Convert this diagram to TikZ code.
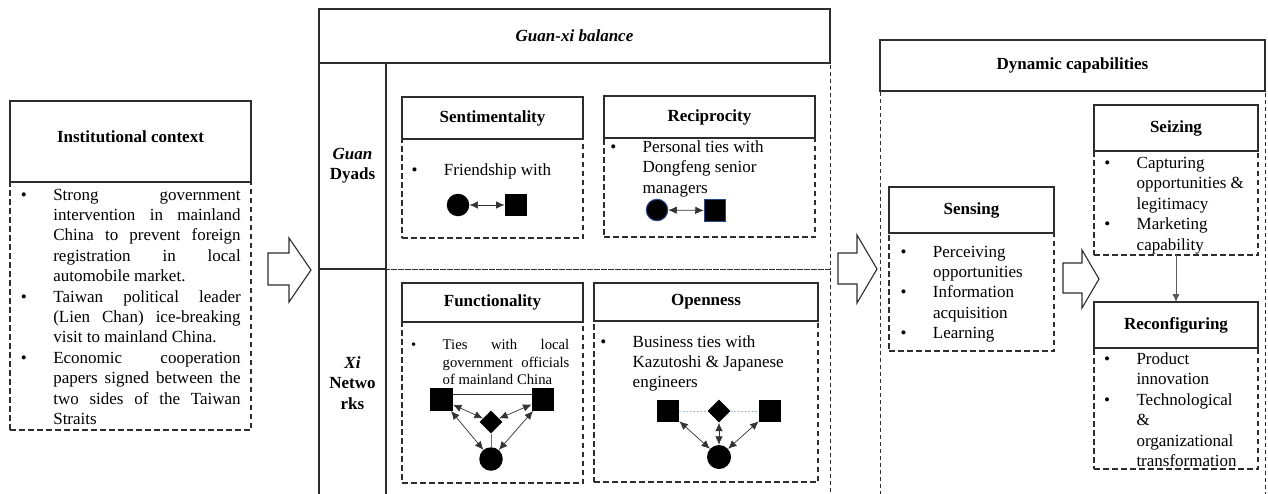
\documentclass[tikz,border=0pt]{standalone}
\usepackage{fontspec}
\setmainfont{Liberation Serif}
\usetikzlibrary{arrows.meta,shapes.geometric}
\definecolor{lc}{RGB}{45,45,45}
\definecolor{bluedge}{RGB}{40,70,140}
\definecolor{blueln}{RGB}{70,110,200}
\definecolor{lightblue}{RGB}{170,190,230}
\newdimen\jw
\newcommand\JL[1]{\hbox to\jw{\spaceskip=.25em plus 1fil\relax #1}}
\newcommand\LL[1]{\hbox{#1}}
\newcommand\BL{\llap{\textbullet\hspace{26.5pt}}}
\newcommand\rbox[7]{\node[#1, minimum width={(#5-#3)*1pt}, minimum height={(#6-#4)*1pt}] (#2) at ({(#3+#5)/2},{(#4+#6)/2}) {#7};}
\tikzset{
  tbox/.style={draw=lc, line width=1.1pt, inner sep=0pt, outer sep=0pt, align=center, font=\fontsize{17}{20.4}\selectfont\bfseries},
  dbox/.style={draw=lc, line width=1.1pt, dash pattern=on 5.5pt off 3.5pt, inner sep=0pt, outer sep=0pt},
  obox/.style={draw=lc, line width=0.8pt, dash pattern=on 4pt off 3pt, inner sep=0pt, outer sep=0pt},
  txt/.style={anchor=base west, inner sep=0pt, outer sep=0pt, font=\fontsize{17}{20.4}\selectfont},
  dot/.style={circle, fill=black, inner sep=0pt, minimum size=22.5pt},
  sq/.style={rectangle, fill=black, inner sep=0pt, minimum size=22.5pt},
  dia/.style={diamond, fill=black, inner sep=0pt, minimum size=23pt},
  biarrow/.style={{Latex[length=8.5pt,width=7.5pt]}-{Latex[length=8.5pt,width=7.5pt]}, line width=0.7pt, draw=black!80},
  bigarrow/.style={draw=lc, line width=1.1pt, fill=white},
}
\begin{document}
\begin{tikzpicture}[x=1pt,y=-1pt]
\useasboundingbox (0,0) rectangle (1268,493);

% ---------- Institutional context ----------
\rbox{dbox}{instB}{10}{182}{251}{430}{}
\rbox{tbox}{instT}{10}{101}{251}{182}{}
\node[tbox, draw=none] (instL) at (130.5,137) {Institutional context};
\node[txt] (instX) at (53.3,200) {\jw=187.4pt\vtop{%
  \JL{\BL Strong government}
  \JL{intervention in mainland}
  \JL{China to prevent foreign}
  \JL{registration in local}
  \LL{automobile market.}
  \JL{\BL Taiwan political leader}
  \JL{(Lien Chan) ice-breaking}
  \LL{visit to mainland China.}
  \JL{\BL Economic cooperation}
  \JL{papers signed between the}
  \JL{two sides of the Taiwan}
  \LL{Straits}}};

% big arrow 1
\draw[bigarrow] (268,253) coordinate (a1) -- (289,253) -- (289,238) -- (311,270) coordinate (a1tip) -- (289,302) -- (289,285) -- (268,285) -- cycle;

% ---------- Guan-xi balance ----------
\rbox{obox}{dyArea}{386}{63}{830}{269}{}
\rbox{obox}{xiArea}{386}{269}{830}{510}{}
\rbox{tbox}{dyL}{319}{63}{386}{269}{{\itshape Guan}\\Dyads}
\rbox{tbox}{xiL}{319}{269}{386}{510}{}
\node[tbox, draw=none] (xiLab) at (352.5,383) {{\itshape Xi}\\Netwo\\rks};
\rbox{tbox}{gxT}{319}{9}{830}{63}{\itshape Guan-xi balance}

% Sentimentality
\rbox{dbox}{senB}{402}{139}{583}{238}{}
\rbox{tbox}{senT}{402}{97}{583}{139}{Sentimentality}
\node[txt] (senX) at (444,175) {\LL{\BL Friendship with}};
\node[dot] (senC) at (458,205) {};
\node[sq] (senS) at (516,205) {};
\draw[biarrow] (senC) -- (senS);

% Reciprocity
\rbox{dbox}{recB}{604}{138}{815}{237}{}
\rbox{tbox}{recT}{604}{96}{815}{138}{Reciprocity}
\node[txt] (recX) at (642.7,152.5) {\vtop{%
  \LL{\BL Personal ties with}
  \LL{Dongfeng senior}
  \LL{managers}}};
\node[dot, draw=bluedge, line width=1pt, minimum size=21.5pt] (recC) at (657,210) {};
\node[sq, draw=bluedge, line width=1pt, minimum size=21.5pt] (recS) at (715,210.5) {};
\draw[biarrow] (recC) -- (recS);

% Functionality
\rbox{dbox}{funB}{402}{322}{583}{483}{}
\rbox{tbox}{funT}{402}{283}{583}{322}{Functionality}
\node[txt, font=\fontsize{14.7}{17.5}\selectfont] (funX) at (442.7,349.5) {\jw=126.6pt\vtop{%
  \JL{\llap{\textbullet\hspace{26.5pt}}Ties with local}
  \JL{government officials}
  \LL{of mainland China}}};
\node[sq] (fsL) at (441.5,399.5) {};
\node[sq] (fsR) at (543,399.5) {};
\node[dia] (fD) at (491,422) {};
\node[dot, minimum size=23.5pt] (fC) at (491,459) {};
\draw[line width=0.6pt, black!80] ([yshift=-6pt]fsL.north east) -- ([yshift=-6pt]fsR.north west);
\draw[line width=0.6pt, blueln] (fD.south) -- (fC.north);
\draw[biarrow] (fsL) -- (fD);
\draw[biarrow] (fsR) -- (fD);
\draw[biarrow] (fsL) -- (fC);
\draw[biarrow] (fsR) -- (fC);

% Openness
\rbox{dbox}{opeB}{594}{321}{818}{482}{}
\rbox{tbox}{opeT}{594}{283}{818}{321}{Openness}
\node[txt] (opeX) at (632.7,347) {\vtop{%
  \LL{\BL Business ties with}
  \LL{Kazutoshi \& Japanese}
  \LL{engineers}}};
\node[sq] (osL) at (668,411) {};
\node[dia] (oD) at (719,411) {};
\node[sq] (osR) at (770,411) {};
\node[dot, minimum size=24pt] (oC) at (719,457) {};
\draw[line width=0.6pt, lightblue, dash pattern=on 2pt off 1.5pt] (osL) -- (oD);
\draw[line width=0.6pt, lightblue, dash pattern=on 2pt off 1.5pt] (oD) -- (osR);
\draw[biarrow] (osL) -- (oC);
\draw[biarrow] (osR) -- (oC);
\draw[biarrow] (oD) -- (oC);

% big arrow 2
\draw[bigarrow] (838,253) coordinate (a2) -- (857,253) -- (857,235) -- (877,269) coordinate (a2tip) -- (857,303) -- (857,284) -- (838,284) -- cycle;

% ---------- Dynamic capabilities ----------
\rbox{obox}{dcB}{880}{91}{1265}{510}{}
\rbox{tbox}{dcT}{880}{40}{1265}{91}{Dynamic capabilities}

% Sensing
\rbox{dbox}{snsB}{889}{233}{1054}{351}{}
\rbox{tbox}{snsT}{889}{187}{1054}{233}{Sensing}
\node[txt] (snsX) at (933,257) {\vtop{%
  \LL{\BL Perceiving}
  \LL{opportunities}
  \LL{\BL Information}
  \LL{acquisition}
  \LL{\BL Learning}}};

% big arrow 3
\draw[bigarrow] (1063,263) coordinate (a3) -- (1082,263) -- (1082,250) -- (1099,279) coordinate (a3tip) -- (1082,308) -- (1082,293) -- (1063,293) -- cycle;

% Seizing
\rbox{dbox}{seiB}{1094}{151}{1258}{255}{}
\rbox{tbox}{seiT}{1094}{105}{1258}{151}{Seizing}
\node[txt] (seiX) at (1136.7,168.5) {\vtop{%
  \LL{\BL Capturing}
  \LL{opportunities \&}
  \LL{legitimacy}
  \LL{\BL Marketing}
  \LL{capability}}};

% Reconfiguring
\rbox{dbox}{rcfB}{1094}{348}{1258}{469}{}
\rbox{tbox}{rcfT}{1094}{302}{1258}{348}{Reconfiguring}
\node[txt] (rcfX) at (1136.5,364.5) {\vtop{%
  \LL{\BL Product}
  \LL{innovation}
  \LL{\BL Technological}
  \LL{\&}
  \LL{organizational}
  \LL{transformation}}};

\draw[-{Latex[length=8pt,width=7pt]}, line width=0.8pt, draw=black!65] (seiB.south) -- (rcfT.north);
\end{tikzpicture}
\end{document}
